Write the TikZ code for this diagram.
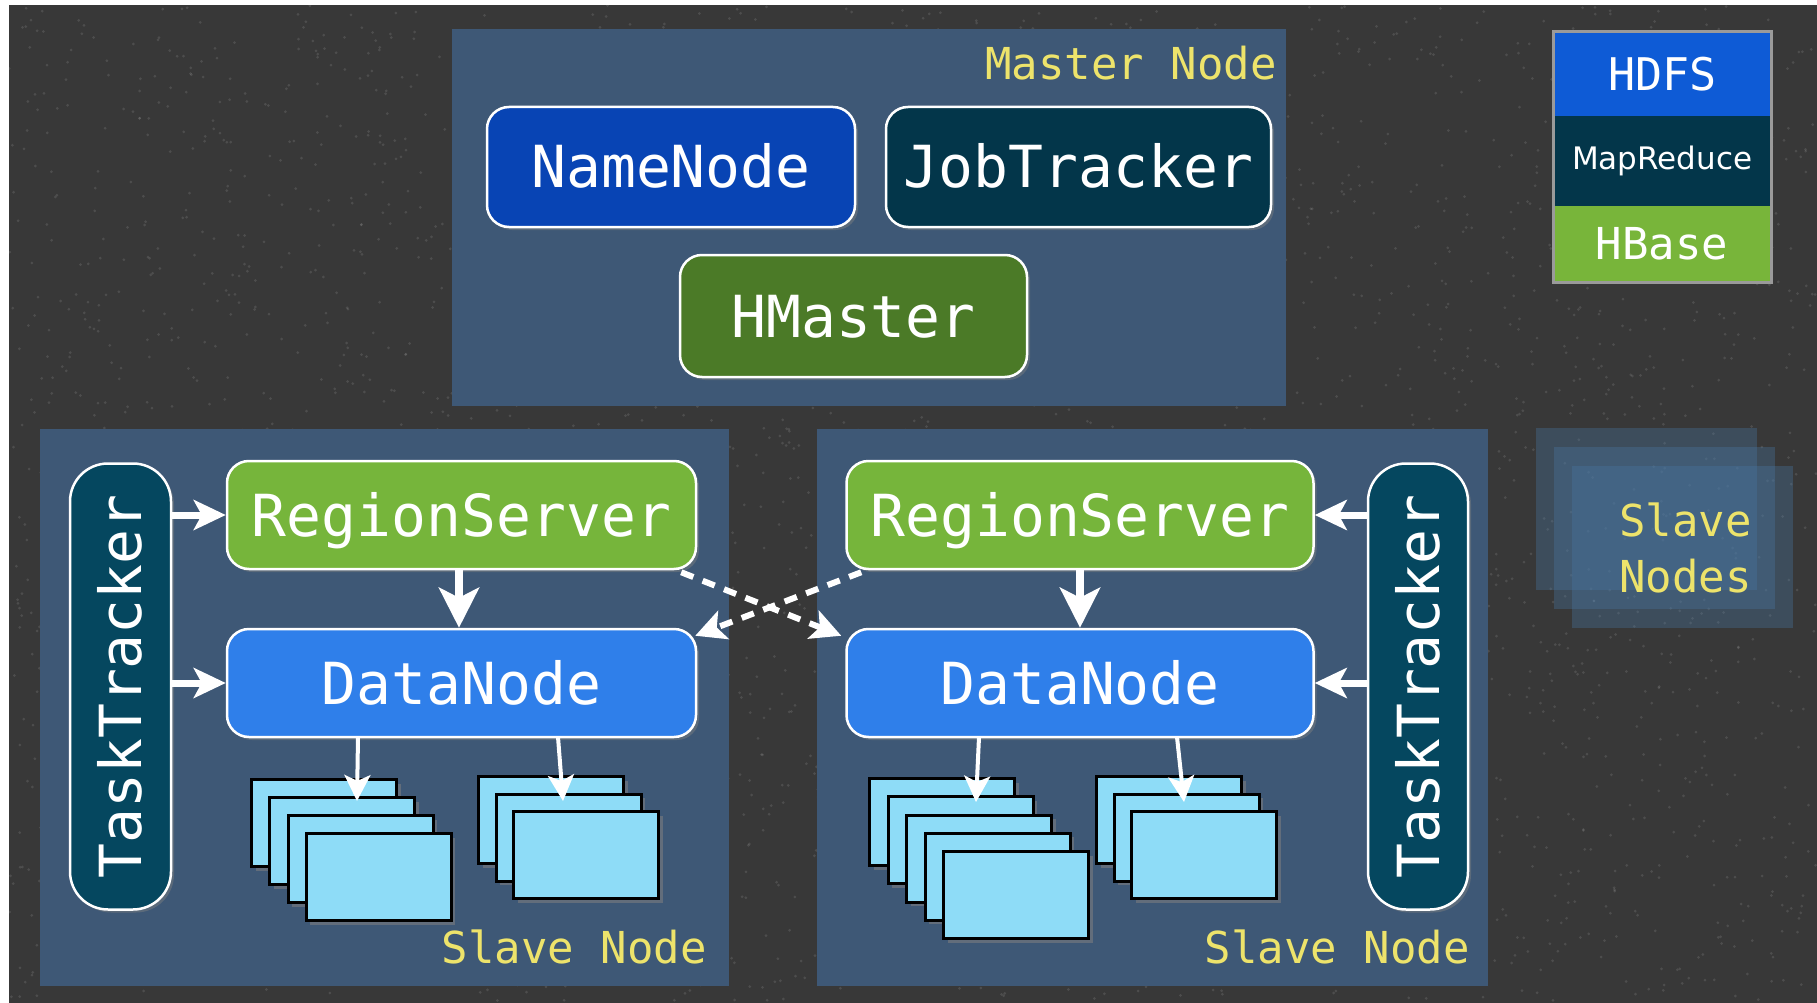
\documentclass[tikz,border=0pt]{standalone}
\usepackage{fontspec}
\setmainfont{DejaVu Sans}
\newfontfamily\monofam{DejaVu Sans Mono}
\usetikzlibrary{arrows.meta,shadows,calc}

\definecolor{bgray}{HTML}{383838}
\definecolor{panel}{HTML}{3E5876}
\definecolor{nnblue}{HTML}{0844B4}
\definecolor{jtteal}{HTML}{03364A}
\definecolor{hmgreen}{HTML}{4B7A27}
\definecolor{rsgreen}{HTML}{76B53B}
\definecolor{dnblue}{HTML}{2F7FEA}
\definecolor{ttteal}{HTML}{05475F}
\definecolor{hdfsblue}{HTML}{0E5BD6}
\definecolor{hbgreen}{HTML}{78B53A}
\definecolor{pagecyan}{HTML}{8EDCF7}
\definecolor{labelyellow}{HTML}{EDE36B}
\definecolor{legendedge}{HTML}{9A9A9A}
\definecolor{stackblue}{HTML}{4A79A6}

\begin{document}
\begin{tikzpicture}[x=1pt,y=-1pt,
  panelbox/.style={fill=panel, draw=none},
  svc/.style={draw=white, line width=2.5pt, rounded corners=22pt, text=white,
    font=\monofam\fontsize{58}{60}\selectfont, inner sep=0pt,
    text height=42pt, text depth=0pt,
    drop shadow={opacity=0.45, shadow xshift=3pt, shadow yshift=-3pt}},
  pill/.style={svc, rounded corners=38pt},
  caption/.style={text=labelyellow, font=\monofam\fontsize{44}{46}\selectfont, inner sep=0pt},
  legendcell/.style={draw=none, text=white, inner sep=0pt, minimum width=218pt},
  page/.style={fill=pagecyan, draw=black, line width=3pt, anchor=north west,
    minimum width=145pt, minimum height=87pt, inner sep=0pt,
    drop shadow={opacity=0.55, shadow xshift=4pt, shadow yshift=-4pt}},
  ghost/.style={fill=stackblue, fill opacity=0.33, draw=none, anchor=north west,
    minimum width=221pt, minimum height=162pt, inner sep=0pt},
  bigarrow/.style={draw=white, line width=7pt,
    -{Stealth[length=32pt,width=30pt,inset=8pt]}},
  downarrow/.style={draw=white, line width=8pt,
    -{Stealth[length=40pt,width=40pt,inset=10pt]}},
  thinarrow/.style={draw=white, line width=4pt,
    -{Stealth[length=26pt,width=26pt,inset=6pt]}},
  dasharrow/.style={draw=white, line width=6pt, dash pattern=on 13pt off 10pt,
    -{Stealth[length=30pt,width=30pt,inset=7pt]}}
]
\useasboundingbox (0,0) rectangle (1817,1003);

% white page margin, then the textured dark backdrop
\fill[white] (0,0) rectangle (1817,1003);
\fill[bgray] (9,5) rectangle (1817,1003);
\pgfmathsetseed{11}
\foreach \k in {1,...,3500}{
  \pgfmathsetmacro\rx{9+rnd*1808}
  \pgfmathsetmacro\ry{5+rnd*996}
  \fill[white,opacity=0.11] (\rx,\ry) circle (1.5);
}

% ---------- master node ----------
\fill[panelbox] (452,29) rectangle (1286,406);
\node[caption, anchor=base east] (mlabel) at (1277,80) {Master Node};
\node[svc, fill=nnblue, minimum width=368pt, minimum height=120pt] (nn) at (671,167) {NameNode};
\node[svc, fill=jtteal, minimum width=385pt, minimum height=120pt] (jt) at (1078.5,167) {JobTracker};
\node[svc, fill=hmgreen, minimum width=347pt, minimum height=122pt] (hm) at (853.5,316) {HMaster};

% ---------- legend ----------
\node[legendcell, fill=hdfsblue, minimum height=84pt, anchor=north west,
      font=\monofam\fontsize{45}{47}\selectfont] (lhdfs) at (1553,32) {HDFS};
\node[legendcell, fill=jtteal, minimum height=90pt, anchor=north west,
      font=\fontsize{31}{33}\selectfont] (lmr) at (1553,116) {MapReduce};
\node[legendcell, fill=hbgreen, minimum height=76pt, anchor=north west,
      font=\monofam\fontsize{44}{46}\selectfont] (lhb) at (1553,206) {HBase};
\draw[legendedge, line width=3pt] (lhdfs.north west) rectangle (lhb.south east);

% ---------- stacked slave-node icon ----------
\node[ghost] (g1) at (1536,428) {};
\node[ghost] (g2) at (1554,447) {};
\node[ghost] (g3) at (1572,466) {};
\node[caption, align=right, anchor=east, font=\monofam\fontsize{44}{56}\selectfont] (slaves) at (1752,548) {Slave\\Nodes};

% ---------- left slave node ----------
\fill[panelbox] (40,429) rectangle (729,986);
\node[caption, anchor=base east] (llabel) at (707,963) {Slave Node};
\node[pill, fill=ttteal, minimum width=446pt, minimum height=101pt, rotate=90] (ltt) at (120.5,686.5) {TaskTracker};
\node[svc, fill=rsgreen, minimum width=469pt, minimum height=108pt] (lrs) at (461.5,515) {RegionServer};
\node[svc, fill=dnblue, minimum width=469pt, minimum height=108pt] (ldn) at (461.5,683) {DataNode};

\foreach \i in {0,...,3} \node[page] (la\i) at ({250+18.3*\i},{778+18*\i}) {};
\foreach \i in {0,...,2} \node[page] (lb\i) at ({477+17.5*\i},{775+17.5*\i}) {};

% ---------- right slave node ----------
\fill[panelbox] (817,429) rectangle (1488,986);
\node[caption, anchor=base east] (rlabel) at (1470,963) {Slave Node};
\node[pill, fill=ttteal, minimum width=446pt, minimum height=100pt, rotate=90] (rtt) at (1418,686.5) {TaskTracker};
\node[svc, fill=rsgreen, minimum width=467pt, minimum height=108pt] (rrs) at (1080,515) {RegionServer};
\node[svc, fill=dnblue, minimum width=467pt, minimum height=108pt] (rdn) at (1080,683) {DataNode};

\foreach \i in {0,...,4} \node[page] (rc\i) at ({868+18.5*\i},{777+18.25*\i}) {};
\foreach \i in {0,...,2} \node[page] (rd\i) at ({1095+17.5*\i},{775+17.5*\i}) {};

% ---------- connectors ----------
\coordinate (la) at (357,801);
\coordinate (lb) at (563,801);
\coordinate (rc) at (976,802);
\coordinate (rd) at (1184,802);

\draw[bigarrow] (ltt.south |- lrs.west) -- (lrs.west);
\draw[bigarrow] (ltt.south |- ldn.west) -- (ldn.west);
\draw[downarrow] (lrs.south -| 459,0) -- (ldn.north -| 459,0);
\draw[thinarrow] (358,737) -- (la);
\draw[thinarrow] (558,737) -- (lb);

\draw[bigarrow] (rtt.north |- rrs.east) -- (rrs.east);
\draw[bigarrow] (rtt.north |- rdn.east) -- (rdn.east);
\draw[downarrow] (rrs.south) -- (rdn.north);
\draw[thinarrow] (979,737) -- (rc);
\draw[thinarrow] (1177,737) -- (rd);

\draw[dasharrow] ($(lrs.south east)+(-16,2)$) -- ($(rdn.north west)+(-4,8)$);
\draw[dasharrow] ($(rrs.south west)+(16,2)$) -- ($(ldn.north east)+(-2,8)$);
\end{tikzpicture}
\end{document}
